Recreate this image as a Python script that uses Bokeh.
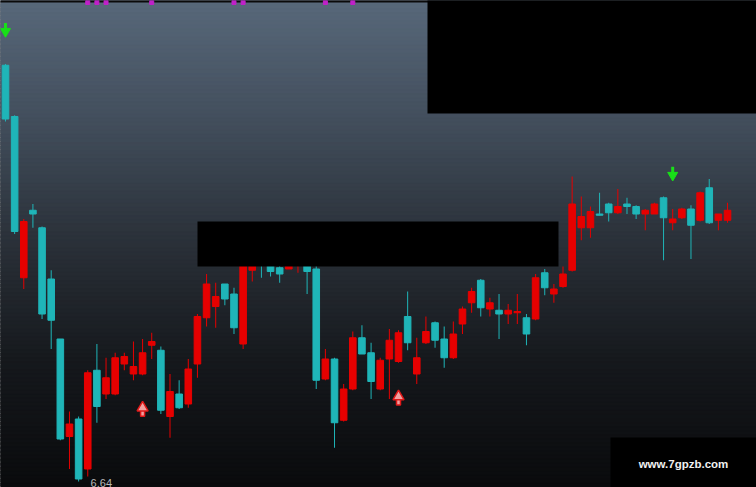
import numpy as np
from bokeh.plotting import figure
from bokeh.models import Range1d
from bokeh.core.properties import value
from bokeh.embed import file_html
from bokeh.resources import INLINE

# ---- daily K-line data ----
opens = [9.97, 9.56, 8.27, 8.81, 8.67, 8.26, 7.78, 7.00, 7.14, 6.74,
         7.53, 7.34, 7.34, 7.58, 7.50, 7.50, 7.73, 7.69, 7.16, 7.34,
         7.26, 7.58, 7.95, 8.04, 8.22, 8.14, 7.74, 8.33, 8.39, 8.39,
         8.35, 8.34, 8.39, 8.41, 8.34, 7.46, 7.62, 7.13, 7.38, 7.79,
         7.67, 7.38, 7.62, 7.60, 7.96, 7.50, 7.75, 7.91, 7.78, 7.63,
         7.90, 8.07, 8.25, 8.02, 8.01, 7.98, 7.99, 7.95, 7.94, 8.31,
         8.14, 8.20, 8.33, 8.67, 8.67, 8.78, 8.86, 8.79, 8.86, 8.84,
         8.78, 8.78, 8.91, 8.71, 8.75, 8.82, 8.73, 8.99, 8.73, 8.73]
highs = [9.98, 9.57, 8.74, 8.86, 8.68, 8.33, 7.78, 7.20, 7.16, 7.53,
         7.74, 7.63, 7.67, 7.67, 7.76, 7.78, 7.83, 7.72, 7.50, 7.45,
         7.62, 7.98, 8.30, 8.23, 8.22, 8.19, 8.53, 8.45, 8.45, 8.42,
         8.41, 8.44, 8.49, 8.47, 8.37, 7.70, 7.63, 7.42, 7.84, 7.89,
         7.75, 7.63, 7.86, 7.85, 8.16, 7.79, 7.96, 7.92, 7.88, 7.92,
         8.04, 8.19, 8.26, 8.11, 8.14, 8.06, 8.14, 7.98, 8.30, 8.34,
         8.22, 8.36, 9.08, 8.92, 8.84, 8.95, 8.87, 8.98, 8.91, 8.85,
         8.82, 8.87, 8.92, 8.82, 8.83, 8.85, 8.96, 9.06, 8.78, 8.87]
lows = [9.52, 8.62, 8.18, 8.67, 7.94, 7.70, 6.97, 6.74, 6.64, 6.68,
        7.11, 7.30, 7.33, 7.53, 7.45, 7.49, 7.62, 7.18, 6.99, 7.22,
        7.23, 7.47, 7.88, 7.87, 8.05, 7.82, 7.70, 8.24, 8.27, 8.28,
        8.23, 8.34, 8.31, 8.14, 7.38, 7.45, 6.91, 7.12, 7.37, 7.66,
        7.30, 7.37, 7.30, 7.59, 7.69, 7.42, 7.74, 7.71, 7.55, 7.62,
        7.82, 7.99, 7.96, 7.96, 7.78, 7.90, 7.90, 7.73, 7.93, 8.13,
        8.07, 8.19, 8.32, 8.57, 8.59, 8.77, 8.72, 8.78, 8.78, 8.74,
        8.65, 8.78, 8.41, 8.65, 8.74, 8.42, 8.72, 8.70, 8.65, 8.71]
closes = [9.54, 8.64, 8.72, 8.78, 7.98, 7.93, 6.98, 7.10, 6.66, 7.51,
          7.24, 7.47, 7.63, 7.64, 7.56, 7.67, 7.76, 7.21, 7.36, 7.23,
          7.54, 7.96, 8.22, 8.12, 8.10, 7.87, 8.49, 8.39, 8.38, 8.32,
          8.30, 8.39, 8.42, 8.32, 7.45, 7.62, 7.11, 7.38, 7.79, 7.66,
          7.44, 7.61, 7.77, 7.83, 7.75, 7.63, 7.84, 7.77, 7.63, 7.82,
          8.02, 8.16, 8.03, 8.07, 7.98, 8.01, 8.00, 7.82, 8.27, 8.19,
          8.18, 8.30, 8.86, 8.76, 8.80, 8.77, 8.79, 8.84, 8.84, 8.78,
          8.81, 8.86, 8.75, 8.74, 8.82, 8.69, 8.95, 8.71, 8.78, 8.81]

# signals
sell_idx = [0, 73]
sell_price = [10.26, 9.11]
buy_idx = [15, 43]
buy_price = [7.21, 7.30]
flag_idx = [9, 10, 11, 16, 25, 26, 35, 38]
watermark = "www.7gpzb.com"

# ---- layout / style ----
W, H = 756, 487
X0, X1 = -0.547, 82.17
Y0, Y1 = 6.592, 10.488
UP, DOWN = "#e60000", "#1fb5b8"
px_x = (X1 - X0) / W
px_y = (Y1 - Y0) / H

def sx_(px):   # screen x (reference pixels) -> bar index
    return X0 + px * px_x

def sy_(py):   # screen y (reference pixels) -> price
    return Y1 - py * px_y

p = figure(width=W, height=H, x_range=Range1d(X0, X1), y_range=Range1d(Y0, Y1),
           output_backend="svg", toolbar_location=None, min_border=0)
p.axis.visible = False
p.grid.visible = False
p.outline_line_color = None
p.background_fill_color = "#0b0c0e"
p.border_fill_color = "#0b0c0e"

# gradient background
stops_t = [0.0, 0.25, 0.5, 0.75, 1.0]
stops_c = np.array([(88, 104, 122), (66, 78, 92), (42, 48, 56), (21, 24, 28), (10, 11, 13)], float)
n = 120
edges = np.linspace(Y1, Y0, n + 1)
cols = []
for i in range(n):
    t = (i + 0.5) / n
    c = [np.interp(t, stops_t, stops_c[:, k]) for k in range(3)]
    cols.append("#%02x%02x%02x" % tuple(int(round(v)) for v in c))
p.quad(left=X0 - 1, right=X1 + 1, top=edges[:-1], bottom=edges[1:] - 2 * px_y,
       fill_color=cols, line_color=cols, line_width=1)
p.quad(left=X0 - 1, right=X1 + 1, top=Y1 + 1, bottom=sy_(2), fill_color="#0a0a0a", line_color=None)

# candles
idx = np.arange(len(opens))
o = np.array(opens); c = np.array(closes); h = np.array(highs); l = np.array(lows)
colors = [UP if cc >= oo else DOWN for oo, cc in zip(o, c)]
p.segment(x0=idx, y0=h, x1=idx, y1=l, line_color=colors, line_width=1)
p.quad(left=idx - 0.36, right=idx + 0.36, top=np.maximum(o, c), bottom=np.minimum(o, c),
       fill_color=colors, line_color=colors, line_width=1)

# sell arrows (green, down)
sx = np.array(sell_idx, float); sp = np.array(sell_price)
p.segment(x0=sx, y0=sp + 6 * px_y, x1=sx, y1=sp - 1 * px_y, line_color="#18e018", line_width=3)
p.scatter(x=sx, y=sp - 2.5 * px_y, marker="inverted_triangle", size=10,
          fill_color="#18e018", line_color="#18e018")

# buy arrows (red outlined, up)
bx = np.array(buy_idx, float); bp = np.array(buy_price)
p.rect(x=bx, y=bp - 3 * px_y, width=4 * px_x, height=6 * px_y,
       fill_color="#f0a0a0", line_color="#e01818", line_width=1.5)
p.scatter(x=bx, y=bp + 2.5 * px_y, marker="triangle", size=11,
          fill_color="#f0a0a0", line_color="#e01818", line_width=1.5)

# flags at the top
p.scatter(x=flag_idx, y=[sy_(2)] * len(flag_idx), marker="square", size=4,
          fill_color="#c020c8", line_color="#c020c8")

# lowest price label
li = int(np.argmin(l))
p.text(x=[li], y=[l[li]], text=["%.2f" % l[li]], x_offset=12, y_offset=5,
       text_baseline="bottom", text_align="left", text_font=value("Liberation Sans"),
       text_font_size="11px", text_color="#b8b8b8")

# black cover boxes (drawn as glyphs so the watermark can sit on top)
p.quad(left=[sx_(427), sx_(197), sx_(610)],
       right=[X1 + 1, sx_(558), X1 + 1],
       bottom=[sy_(113), sy_(266), Y0 - 1],
       top=[Y1 + 1, sy_(221), sy_(437)],
       fill_color="#000000", line_color=None)

p.text(x=[sx_(683)], y=[sy_(463)], text=[watermark], text_align="center",
       text_baseline="middle", text_font=value("Liberation Sans"), text_font_style="bold",
       text_font_size="11.5px", text_color="#f0f0f0")

open("out.html", "w").write(file_html(p, INLINE))
